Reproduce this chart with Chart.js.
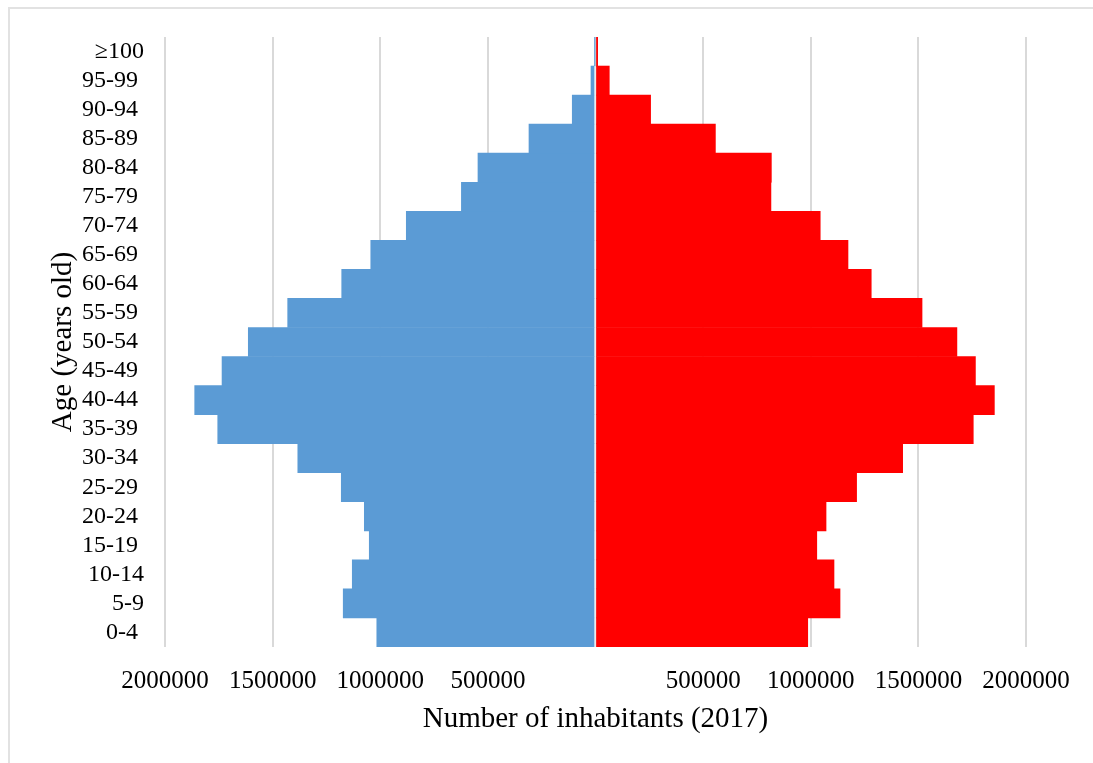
<!DOCTYPE html>
<html lang="en">
<head>
    <meta charset="UTF-8">
    <title>Number of inhabitants by age (2017)</title>
    <script src="https://cdn.jsdelivr.net/npm/chart.js"></script>
    <style>
        html, body {
            margin: 0;
            padding: 0;
            background: #fff;
        }
        .wrap {
            position: relative;
            width: 1093px;
            height: 763px;
            overflow: hidden;
        }
        /* only the top and left edges of the outer frame are in view */
        .frame {
            position: absolute;
            left: 8px;
            top: 7px;
            width: 1300px;
            height: 1000px;
            border-top: 2px solid #e2e2e2;
            border-left: 2px solid #e2e2e2;
        }
        canvas {
            position: absolute;
            left: 0;
            top: 0;
        }
    </style>
</head>
<body>
    <div class="wrap">
        <div class="frame"></div>
        <canvas id="pyramid" width="1093" height="763"></canvas>
    </div>

    <script>
        // age groups, bottom row first (some labels carry a trailing space, as in the original)
        const ageGroups = ['0-4 ', '5-9', '10-14', '15-19 ', '20-24 ', '25-29 ', '30-34 ', '35-39 ', '40-44 ',
            '45-49 ', '50-54 ', '55-59 ', '60-64 ', '65-69 ', '70-74 ', '75-79 ', '80-84 ', '85-89 ',
            '90-94 ', '95-99 ', '\u2265100'];

        // left side (blue)
        const men = [1016000, 1172000, 1130000, 1051000, 1074000, 1181000, 1383000, 1755000, 1862000,
            1735000, 1613000, 1430000, 1179000, 1044000, 879000, 623000, 546000, 309000,
            108000, 21000, 2000];

        // right side (red)
        const women = [986000, 1136000, 1108000, 1028000, 1071000, 1213000, 1427000, 1755000, 1853000,
            1765000, 1679000, 1517000, 1281000, 1173000, 1044000, 815000, 817000, 557000,
            256000, 64000, 10000];

        const xTickValues = [-2000000, -1500000, -1000000, -500000, 0, 500000, 1000000, 1500000, 2000000];
        const xTickLabels = ['2000000', '1500000', '1000000', '500000', '', '500000', '1000000', '1500000', '2000000'];

        const serif = "'Liberation Serif', 'Times New Roman', serif";

        // thin white seam where the blue bars meet the red ones
        const zeroSeam = {
            id: 'zeroSeam',
            afterDatasetsDraw(chart) {
                const c = chart.ctx;
                const x0 = chart.scales.x.getPixelForValue(0);
                c.save();
                c.fillStyle = '#ffffff';
                chart.getDatasetMeta(0).data.forEach(bar => {
                    if (Math.abs(bar.x - bar.base) < 3) return;
                    c.fillRect(x0 - 1, bar.y - bar.height / 2, 1, bar.height);
                });
                c.restore();
            }
        };

        const ctx = document.getElementById('pyramid').getContext('2d');

        new Chart(ctx, {
            type: 'bar',
            data: {
                labels: ageGroups,
                datasets: [
                    {
                        label: 'Men',
                        data: men.map(v => -v),
                        backgroundColor: '#5B9BD5',
                        borderWidth: 0
                    },
                    {
                        label: 'Women',
                        data: women,
                        backgroundColor: '#FF0000',
                        borderWidth: 0
                    }
                ]
            },
            options: {
                indexAxis: 'y',
                responsive: false,
                animation: false,
                barPercentage: 1,
                categoryPercentage: 1,
                layout: {
                    padding: { top: 37, right: 67, bottom: 0, left: 0 }
                },
                scales: {
                    x: {
                        stacked: true,
                        min: -2000000,
                        max: 2000000,
                        afterBuildTicks: (scale) => {
                            scale.ticks = xTickValues.map(v => ({ value: v }));
                        },
                        afterFit: (scale) => { scale.height = 116; },
                        ticks: {
                            autoSkip: false,
                            maxRotation: 0,
                            padding: 19,
                            color: '#000',
                            font: { family: serif, size: 25 },
                            callback: (value, index) => xTickLabels[index]
                        },
                        grid: {
                            color: '#d9d9d9',
                            lineWidth: 2,
                            drawTicks: false
                        },
                        border: { display: false },
                        title: {
                            display: true,
                            text: 'Number of inhabitants (2017)',
                            color: '#000',
                            font: { family: serif, size: 29 },
                            padding: { top: 0, bottom: 26 }
                        }
                    },
                    y: {
                        stacked: true,
                        reverse: true,
                        afterFit: (scale) => { scale.width = 165; },
                        ticks: {
                            autoSkip: false,
                            padding: 21,
                            color: '#000',
                            font: { family: serif, size: 24 }
                        },
                        grid: { display: false, drawTicks: false },
                        border: { display: false },
                        title: {
                            display: true,
                            text: 'Age (years old)',
                            color: '#000',
                            font: { family: serif, size: 29 },
                            padding: { top: 46, bottom: 0 }
                        }
                    }
                },
                plugins: {
                    legend: { display: false },
                    tooltip: { enabled: false }
                }
            },
            plugins: [zeroSeam]
        });
    </script>
</body>
</html>
